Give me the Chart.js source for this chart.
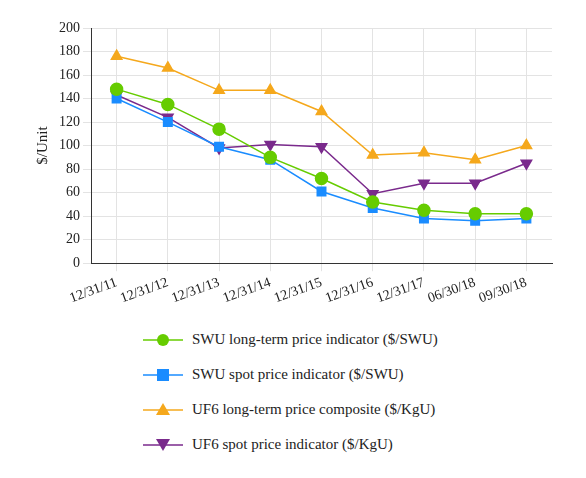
<!DOCTYPE html>
<html><head><meta charset="utf-8">
<script src="https://cdn.jsdelivr.net/npm/chart.js@4/dist/chart.umd.min.js"></script>
<style>
body{margin:0;background:#fff;font-family:"Liberation Serif","Times New Roman",Tinos,"DejaVu Serif",serif;}
#wrap{position:relative;width:586px;height:310px;}
#legend{position:absolute;left:143px;top:322px;}
.item{display:flex;align-items:center;height:35px;font-size:15px;color:#222;}
.item svg{margin-right:9px;}
</style></head><body>
<div id="wrap"><canvas id="c"></canvas></div>
<div id="legend"></div>
<script>
const categories=["12/31/11","12/31/12","12/31/13","12/31/14","12/31/15","12/31/16","12/31/17","06/30/18","09/30/18"];
const swuLongTerm=[148,135,114,90,72,52,45,42,42];
const swuSpot=[140,120,99,88,61,47,38,36,38];
const uf6LongTerm=[176,166,147,147,129,92,94,88,100];
const uf6Spot=[143,124,98,101,99,59,68,68,85];
const labels=["SWU long-term price indicator ($/SWU)","SWU spot price indicator ($/SWU)","UF6 long-term price composite ($/KgU)","UF6 spot price indicator ($/KgU)"];
const colors=["#66cc00","#1a8cff","#f5a81c","#7a2a8c"];
const styles=["circle","rect","triangle","triangle"];
const rots=[0,0,0,180];
const sets=[swuLongTerm,swuSpot,uf6LongTerm,uf6Spot];
const FF='"Liberation Serif","Times New Roman",Tinos,"DejaVu Serif",serif';
Chart.defaults.font.family=FF;
const ds=sets.map((d,i)=>({label:labels[i],data:d,borderColor:colors[i],backgroundColor:colors[i],pointStyle:styles[i],rotation:rots[i],pointRadius:6,pointHoverRadius:6,borderWidth:1.5,tension:0}));
new Chart(document.getElementById('c'),{type:'line',data:{labels:categories,datasets:ds},
options:{responsive:true,maintainAspectRatio:false,animation:false,
layout:{padding:{left:30,right:34,top:28}},
plugins:{legend:{display:false},tooltip:{enabled:false}},
scales:{x:{offset:true,grid:{color:'#e3e3e3',drawTicks:true},border:{color:'#333'},ticks:{autoSkip:false,color:'#222',font:{family:FF,size:14},maxRotation:20,minRotation:20}},
y:{min:0,max:200,ticks:{stepSize:20,color:'#222',font:{family:FF,size:14}},grid:{color:'#e3e3e3'},border:{color:'#333'},
title:{display:true,text:'$/Unit',color:'#222',font:{family:FF,size:15}}}}}});
const lg=document.getElementById('legend');
labels.forEach((t,i)=>{
 let m;
 if(i==0)m=`<circle cx="20" cy="10" r="6" fill="${colors[i]}"/>`;
 else if(i==1)m=`<rect x="14" y="4" width="12" height="12" fill="${colors[i]}"/>`;
 else if(i==2)m=`<polygon points="20,3 27,15 13,15" fill="${colors[i]}"/>`;
 else m=`<polygon points="20,16 27,4 13,4" fill="${colors[i]}"/>`;
 lg.innerHTML+=`<div class="item"><svg width="40" height="20"><line x1="0" y1="10" x2="40" y2="10" stroke="${colors[i]}" stroke-width="1.5"/>${m}</svg>${t}</div>`;
});
</script></body></html>
